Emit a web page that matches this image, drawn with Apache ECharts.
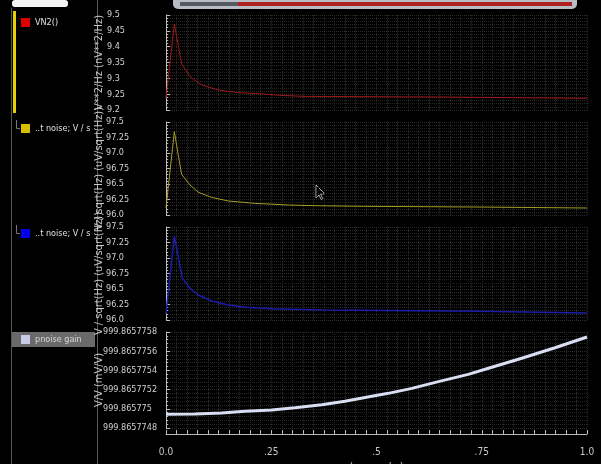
<!DOCTYPE html>
<html>
<head>
<meta charset="utf-8">
<script src="https://cdn.jsdelivr.net/npm/echarts@6/dist/echarts.min.js"></script>
<style>
html,body{margin:0;padding:0;background:#000;}
#c{width:601px;height:464px;}
</style>
</head>
<body>
<div id="c"></div>
<script>
// ---- data ----
const xTicks = ['0.0', '.25', '.5', '.75', '1.0'];

const vn2X = [0, 0.0198, 0.037, 0.057, 0.085, 0.124, 0.172, 0.227, 0.275, 0.330, 0.647, 0.651, 1.0];
const vn2Y = [9.237, 9.472, 9.347, 9.305, 9.279, 9.263, 9.255, 9.251, 9.246, 9.243, 9.241, 9.237, 9.237];

const outNoiseX = [0, 0.0198, 0.037, 0.057, 0.077, 0.108, 0.148, 0.211, 0.291, 0.350, 0.469, 0.473, 0.730, 0.732, 1.0];
const outNoiseY = [96.118, 97.344, 96.656, 96.484, 96.366, 96.285, 96.226, 96.188, 96.161, 96.151, 96.14, 96.129, 96.129, 96.113, 96.113];

const inNoiseX = [0, 0.0198, 0.0388, 0.057, 0.0768, 0.1085, 0.148, 0.188, 0.251, 0.370, 0.374, 0.746, 0.750, 1.0];
const inNoiseY = [96.097, 97.355, 96.672, 96.511, 96.403, 96.306, 96.242, 96.204, 96.183, 96.161, 96.14, 96.14, 96.113, 96.113];

const gainX = [0, 0.069, 0.132, 0.188, 0.251, 0.306, 0.370, 0.425, 0.489, 0.528, 0.584, 0.647, 0.718, 0.766, 0.845, 0.924, 1.0];
const gainY = [999.865774943, 999.865774946, 999.865774956, 999.865774974, 999.865774988, 999.865775012,
               999.865775043, 999.865775078, 999.865775130, 999.865775161, 999.865775213, 999.865775283,
               999.865775359, 999.865775422, 999.865775526, 999.865775636, 999.865775748];

const seriesNames = ['VN2()', 'output noise; V / sqrt(Hz)', 'input noise; V / sqrt(Hz)', 'pnoise gain'];
const axisNames = ['V**2/Hz (nV**2/Hz)', 'V / sqrt(Hz) (uV/sqrt(Hz))', 'V / sqrt(Hz) (uV/sqrt(Hz))', 'V/V (mV/V)'];

// ---- chart ----
const pair = (xs, ys) => xs.map((x, i) => [x, ys[i]]);
const FONT = '"DejaVu Sans Condensed", "Liberation Sans", Arial, sans-serif';
const gridCol = '#2c2c2c';

const grids = [
  {left: 166, right: 14, top: 15, height: 95, outerBoundsMode: 'none'},
  {left: 166, right: 14, top: 122, height: 93, outerBoundsMode: 'none'},
  {left: 166, right: 14, top: 227, height: 93, outerBoundsMode: 'none'},
  {left: 166, right: 14, top: 332, height: 96, outerBoundsMode: 'none'}
];

function xAx(i) {
  const last = i === 3;
  return {
    type: 'value', gridIndex: i, min: 0, max: 1, interval: 0.25,
    offset: last ? 6 : 0,
    axisLine: {show: last, lineStyle: {color: '#bbb'}},
    axisTick: {show: last, inside: true, length: 4, lineStyle: {color: '#bbb'}},
    minorTick: {show: last, splitNumber: 10, length: 4, lineStyle: {color: '#bbb'}},
    axisLabel: {show: last, color: '#c8c8c8', fontFamily: FONT, fontSize: 10, margin: 13,
      formatter: v => xTicks[Math.round(v / 0.25)]},
    splitLine: {show: true, lineStyle: {color: gridCol, type: 'dotted'}},
    minorSplitLine: {show: true, lineStyle: {color: gridCol, type: 'dotted'}},
    name: last ? '( seconds )' : '', nameLocation: 'middle', nameGap: 28, nameMoveOverlap: false,
    nameTextStyle: {color: '#c8c8c8', fontFamily: FONT, fontSize: 11}
  };
}

function yAx(i, min, max, interval, fmt, margin) {
  return {
    type: 'value', gridIndex: i, min: min, max: max, interval: interval,
    offset: 8,
    name: axisNames[i], nameLocation: 'middle', nameGap: 53, nameRotate: 90, nameMoveOverlap: false,
    nameTextStyle: {color: '#c8c8c8', fontFamily: FONT, fontSize: 11},
    axisLine: {show: true, lineStyle: {color: '#bbb'}},
    axisTick: {show: true, inside: true, length: 4, lineStyle: {color: '#bbb'}},
    minorTick: {show: true, splitNumber: 5, length: 2, lineStyle: {color: '#bbb'}},
    axisLabel: {color: '#d0d0d0', fontFamily: FONT, fontSize: 9, align: 'left', margin: margin,
      formatter: fmt, showMinLabel: true, showMaxLabel: true, hideOverlap: false},
    splitLine: {show: true, lineStyle: {color: gridCol, type: 'dotted'}},
    minorSplitLine: {show: true, lineStyle: {color: '#262626', type: 'dotted'}}
  };
}

const fmt1 = v => String(+v.toFixed(3));
const fmt2 = v => Number.isInteger(+v.toFixed(3)) ? v.toFixed(1) : String(+v.toFixed(3));
const fmt4 = v => String(parseFloat(v.toFixed(7)));

function legend(top, name, color, textColor) {
  return {
    left: 16, top: top, orient: 'vertical', selectedMode: false,
    icon: 'rect', itemWidth: 9, itemHeight: 9, itemGap: 4,
    data: [{name: name, itemStyle: {color: color}}],
    formatter: n => n.indexOf('t noise') > 0 ? '..' + n.slice(n.indexOf('t noise')) : n,
    textStyle: {color: textColor, fontFamily: FONT, fontSize: 9, width: 61, overflow: 'truncate', ellipsis: ''}
  };
}

const option = {
  backgroundColor: '#000',
  animation: false,
  grid: grids,
  xAxis: [xAx(0), xAx(1), xAx(2), xAx(3)],
  yAxis: [
    yAx(0, 9.2, 9.5, 0.05, fmt1, 51),
    yAx(1, 96, 97.5, 0.25, fmt2, 52),
    yAx(2, 96, 97.5, 0.25, fmt2, 52),
    yAx(3, 999.8657748, 999.8657758, 0.0000002, fmt4, 55)
  ],
  legend: [
    legend(13, seriesNames[0], '#e00000', '#e0e0e0'),
    legend(119, seriesNames[1], '#d4c000', '#e0e0e0'),
    legend(224, seriesNames[2], '#0000ee', '#e0e0e0'),
    legend(330, seriesNames[3], '#c8cce6', '#d8d8d8')
  ],
  series: [
    {name: seriesNames[0], type: 'line', xAxisIndex: 0, yAxisIndex: 0, data: pair(vn2X, vn2Y),
      showSymbol: false, lineStyle: {color: '#a01818', width: 1}, itemStyle: {color: '#a01818'}},
    {name: seriesNames[1], type: 'line', xAxisIndex: 1, yAxisIndex: 1, data: pair(outNoiseX, outNoiseY),
      showSymbol: false, lineStyle: {color: '#a49c24', width: 1}, itemStyle: {color: '#a49c24'}},
    {name: seriesNames[2], type: 'line', xAxisIndex: 2, yAxisIndex: 2, data: pair(inNoiseX, inNoiseY),
      showSymbol: false, lineStyle: {color: '#1c1ca8', width: 1.5}, itemStyle: {color: '#1c1ca8'}},
    {name: seriesNames[3], type: 'line', xAxisIndex: 3, yAxisIndex: 3, data: pair(gainX, gainY),
      showSymbol: false, lineStyle: {color: '#dadef2', width: 3}, itemStyle: {color: '#dadef2'}}
  ],
  graphic: [
    // left panel decorations
    {type: 'rect', z: -1, shape: {x: 12, y: 332, width: 83, height: 15}, style: {fill: '#6a6a6a'}},
    {type: 'line', shape: {x1: 97.5, y1: 0, x2: 97.5, y2: 464}, style: {stroke: '#5a5a5a', lineWidth: 1}},
    {type: 'line', shape: {x1: 11.5, y1: 8, x2: 11.5, y2: 464}, style: {stroke: '#555', lineWidth: 1}},
    {type: 'rect', shape: {x: 12, y: 0, width: 56, height: 7, r: 3}, style: {fill: '#f4f4f4'}},
    {type: 'rect', shape: {x: 13, y: 11, width: 3, height: 102}, style: {fill: '#e8d000'}},
    {type: 'polyline', shape: {points: [[16.5, 120], [16.5, 128.5], [20, 128.5]]}, style: {stroke: '#777', lineWidth: 1, fill: null}},
    {type: 'polyline', shape: {points: [[16.5, 225], [16.5, 233.5], [20, 233.5]]}, style: {stroke: '#777', lineWidth: 1, fill: null}},
    // top scrollbar
    {type: 'rect', shape: {x: 173, y: -4, width: 404, height: 13, r: 5}, style: {fill: '#b8bcc4'}},
    {type: 'rect', shape: {x: 180, y: 2, width: 58, height: 4}, style: {fill: '#555a60'}},
    {type: 'rect', shape: {x: 238, y: 2, width: 334, height: 4}, style: {fill: '#b02020'}},
    // mouse cursor
    {type: 'polygon', shape: {points: [[316, 185], [316, 198], [319, 195], [321.5, 200], [323, 199], [320.5, 194], [325, 194]]},
      style: {fill: '#000', stroke: '#aaa', lineWidth: 1}}
  ]
};

const chart = echarts.init(document.getElementById('c'), null, {renderer: 'canvas'});
chart.setOption(option);
</script>
</body>
</html>
